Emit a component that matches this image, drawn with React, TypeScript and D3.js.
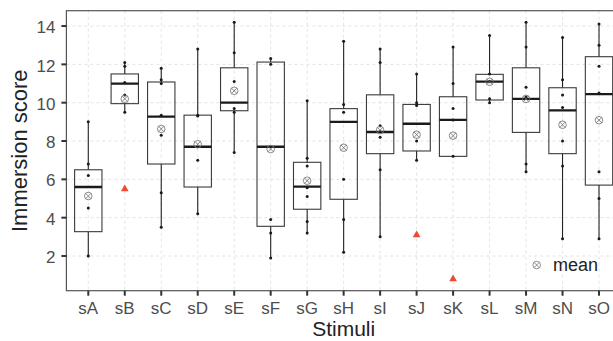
import React from "react";
import * as d3 from "d3";

const stimuli = ["sA", "sB", "sC", "sD", "sE", "sF", "sG", "sH", "sI", "sJ", "sK", "sL", "sM", "sN", "sO"];
const whiskerLow = [2.0, 9.5, 3.5, 4.2, 7.4, 1.9, 3.2, 2.2, 3.0, 7.0, 7.2, 10.0, 6.4, 2.9, 2.9];
const q1 = [3.27, 9.95, 6.8, 5.6, 9.58, 3.55, 4.44, 4.96, 7.34, 7.48, 7.2, 10.14, 8.45, 7.34, 5.7];
const medians = [5.6, 11.0, 9.27, 7.7, 10.0, 7.7, 5.62, 9.0, 8.47, 8.9, 9.1, 11.1, 10.2, 9.6, 10.45];
const q3 = [6.5, 11.5, 11.08, 9.35, 11.82, 12.12, 6.89, 9.69, 10.41, 9.91, 10.31, 11.48, 11.82, 10.78, 12.4];
const whiskerHigh = [9.0, 12.1, 11.8, 12.8, 14.2, 12.3, 10.1, 13.2, 12.8, 11.5, 12.9, 13.5, 14.2, 13.4, 14.1];
const means = [5.13, 10.2, 8.63, 7.83, 10.62, 7.58, 5.93, 7.65, 8.57, 8.33, 8.28, 11.09, 10.2, 8.85, 9.09];
const points = [
  [9.0, 6.8, 6.2, 4.5, 2.0],
  [12.1, 11.9, 11.05, 10.4, 9.5],
  [11.8, 11.2, 11.0, 9.35, 8.3, 5.3, 3.5],
  [12.8, 9.35, 9.3, 7.0, 4.2],
  [14.2, 12.6, 11.1, 9.7, 9.5, 7.4],
  [12.3, 12.0, 3.9, 3.2, 1.9],
  [10.1, 7.1, 6.7, 5.56, 5.1, 3.8, 3.2],
  [13.2, 9.9, 9.5, 6.0, 3.9, 2.2],
  [12.8, 12.1, 8.8, 8.5, 8.2, 6.5, 3.0],
  [11.5, 10.0, 9.85, 8.0, 7.0],
  [12.9, 11.0, 9.7, 9.1, 7.2],
  [13.5, 11.5, 11.1, 10.2, 10.0],
  [14.2, 12.9, 10.8, 10.3, 6.8, 6.4],
  [13.4, 11.2, 10.4, 9.75, 8.0, 6.7, 2.9],
  [14.1, 13.0, 11.9, 10.5, 6.4, 5.0, 2.9],
];
const outliers = [[], [5.5], [], [], [], [], [], [], [], [3.1], [0.8], [], [], [], []];
const yTicks = [2, 4, 6, 8, 10, 12, 14];

const W = 613;
const H = 341;
const panel = { left: 66.4, right: 620.9, top: 10.7, bottom: 290.7 };
const font = "'Liberation Sans', Arial, sans-serif";

function MeanMark({ cx, cy, r = 3.8, color = "#6e6e6e" }) {
  const d = r * 0.7071;
  return (
    <g stroke={color} strokeWidth={0.8} fill="none">
      <circle cx={cx} cy={cy} r={r} />
      <line x1={cx - d} y1={cy - d} x2={cx + d} y2={cy + d} />
      <line x1={cx - d} y1={cy + d} x2={cx + d} y2={cy - d} />
    </g>
  );
}

export default function App() {
  const x = d3.scalePoint().domain(stimuli).range([panel.left, panel.right]).padding(0.6);
  const y = d3.scaleLinear().domain([0.19, 14.8]).range([panel.bottom, panel.top]);
  const boxW = x.step() * 0.75;
  const tri = d3.symbol().type(d3.symbolTriangle).size(26)();

  return (
    <svg width={W} height={H} style={{ position: "absolute", left: 0, top: 0, background: "#fff" }}>
      <defs>
        <clipPath id="panel-clip">
          <rect x={panel.left} y={panel.top} width={panel.right - panel.left} height={panel.bottom - panel.top} />
        </clipPath>
      </defs>

      {/* grid */}
      <g stroke="#dcdcdc" strokeWidth={0.8} strokeDasharray="3,3">
        {yTicks.map((t) => (
          <line key={"gy" + t} x1={panel.left} x2={panel.right} y1={y(t)} y2={y(t)} />
        ))}
        {stimuli.map((s) => (
          <line key={"gx" + s} x1={x(s)} x2={x(s)} y1={panel.top} y2={panel.bottom} />
        ))}
      </g>

      {/* boxes */}
      <g clipPath="url(#panel-clip)">
        {stimuli.map((s, i) => {
          const cx = x(s)!;
          return (
            <g key={s}>
              <line x1={cx} x2={cx} y1={y(whiskerHigh[i])} y2={y(q3[i])} stroke="#222" strokeWidth={1.1} />
              <line x1={cx} x2={cx} y1={y(q1[i])} y2={y(whiskerLow[i])} stroke="#222" strokeWidth={1.1} />
              <rect
                x={cx - boxW / 2}
                y={y(q3[i])}
                width={boxW}
                height={y(q1[i]) - y(q3[i])}
                fill="none"
                stroke="#3a3a3a"
                strokeWidth={1.1}
              />
              <line x1={cx - boxW / 2} x2={cx + boxW / 2} y1={y(medians[i])} y2={y(medians[i])} stroke="#1a1a1a" strokeWidth={2.3} />
              {points[i].map((v, j) => (
                <circle key={j} cx={cx} cy={y(v)} r={1.5} fill="#1a1a1a" />
              ))}
              <MeanMark cx={cx} cy={y(means[i])} />
              {outliers[i].map((v, j) => (
                <path key={"o" + j} d={tri} transform={`translate(${cx},${y(v)})`} fill="#ee4a2f" />
              ))}
            </g>
          );
        })}
      </g>

      {/* panel border */}
      <rect
        x={panel.left}
        y={panel.top}
        width={panel.right - panel.left}
        height={panel.bottom - panel.top}
        fill="none"
        stroke="#555"
        strokeWidth={1.2}
      />

      {/* y axis */}
      {yTicks.map((t) => (
        <g key={"ty" + t}>
          <line x1={panel.left - 5} x2={panel.left} y1={y(t)} y2={y(t)} stroke="#333" strokeWidth={2} />
          <text x={55.5} y={y(t)} dy="0.42em" textAnchor="end" fontFamily={font} fontSize={17} fill="#4d4d4d">
            {t}
          </text>
        </g>
      ))}

      {/* x axis */}
      {stimuli.map((s) => (
        <g key={"tx" + s}>
          <line x1={x(s)} x2={x(s)} y1={panel.bottom} y2={panel.bottom + 5} stroke="#333" strokeWidth={2} />
          <text x={x(s)} y={313.5} textAnchor="middle" fontFamily={font} fontSize={17} fill="#4d4d4d">
            {s}
          </text>
        </g>
      ))}

      <text
        transform={`translate(27,${(panel.top + panel.bottom) / 2}) rotate(-90)`}
        textAnchor="middle"
        fontFamily={font}
        fontSize={22}
        fill="#222"
      >
        Immersion score
      </text>
      <text x={(panel.left + panel.right) / 2} y={336.3} textAnchor="middle" fontFamily={font} fontSize={21} fill="#222">
        Stimuli
      </text>

      {/* legend */}
      <MeanMark cx={536.7} cy={265} r={3.8} color="#777" />
      <text x={553} y={271} fontFamily={font} fontSize={18} fill="#222">
        mean
      </text>
    </svg>
  );
}
